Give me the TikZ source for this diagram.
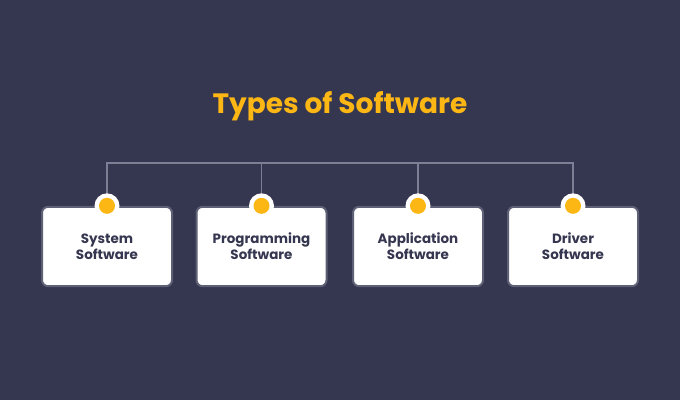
\documentclass[tikz,border=0pt]{standalone}
\usepackage{fontspec}
\setmainfont{Poppins}
\usetikzlibrary{positioning}
\definecolor{bgnavy}{HTML}{35364F}
\definecolor{gold}{HTML}{FDB714}
\definecolor{edgegray}{HTML}{5E6075}
\definecolor{linegray}{HTML}{7D7F94}
\definecolor{inkdark}{HTML}{35364F}
\tikzset{
  typebox/.style={draw=edgegray, line width=1.5pt, fill=white, rounded corners=4.5pt,
    minimum width=97.5pt, minimum height=59.5pt, align=center, inner sep=0pt,
    font=\fontsize{10.1}{12.2}\selectfont\bfseries, text=inkdark},
  link/.style={draw=linegray, line width=1.1pt},
}
\begin{document}
\begin{tikzpicture}[x=0.75pt,y=-0.75pt]
    % background
    \fill[bgnavy] (0,0) rectangle (680,400);
    \useasboundingbox (0,0) rectangle (680,400);
    % title
    \node[text=gold, font=\fontsize{21}{24}\selectfont\bfseries] (title) at (340,106) {Types of Software};
    % the four boxes
    \node[typebox] (sys) at (107,246.5) {System\\Software};
    \node[typebox] (prog) at (261.5,246.5) {Programming\\Software};
    \node[typebox] (app) at (418,246.5) {Application\\Software};
    \node[typebox] (drv) at (573,246.5) {Driver\\Software};
    % connectors
    \coordinate (bar) at (340,163);
    \draw[link] (sys.north) -- (sys.north |- bar) -- (drv.north |- bar) -- (drv.north);
    \draw[link] (prog.north) -- (prog.north |- bar);
    \draw[link] (app.north) -- (app.north |- bar);
    % dots
    \foreach \b in {sys,prog,app,drv}{
      \fill[white] (\b.north) circle [radius=12.5];
      \fill[gold] (\b.north) circle [radius=8];
    }
\end{tikzpicture}
\end{document}
